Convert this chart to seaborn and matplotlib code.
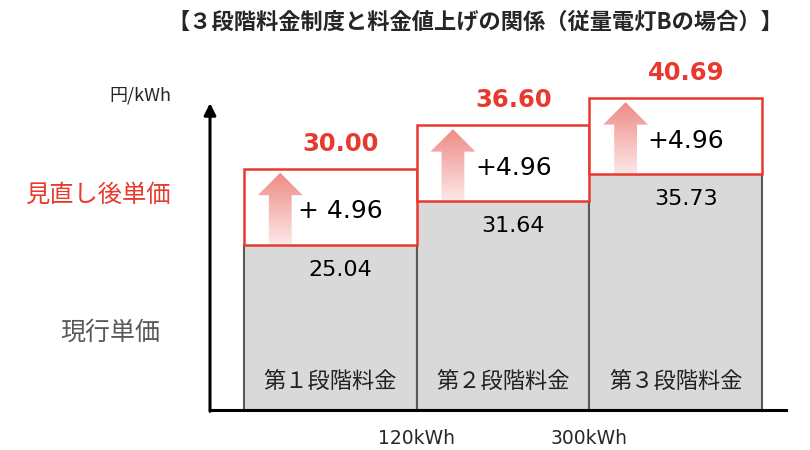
"""
3段階料金制度と料金値上げの関係（従量電灯B）の再現
"""
import numpy as np
import matplotlib
matplotlib.use("Agg")
import matplotlib.pyplot as plt
from matplotlib.colors import LinearSegmentedColormap
from matplotlib.patches import Polygon
import seaborn as sns

# データ
stages = ['第１段階料金', '第２段階料金', '第３段階料金']
current_price = [25.04, 31.64, 35.73]      # 現行単価
increase = [4.96, 4.96, 4.96]              # 値上げ幅
revised_price = [30.00, 36.60, 40.69]      # 見直し後単価
increase_labels = ['+ 4.96', '+4.96', '+4.96']
boundary_labels = ['120kWh', '300kWh']

# 見た目の設定（値上げ幅の箱は模式的に拡大して描く）
BOX_SCALE = 2.32
Y_ARROW_TOP = 46.5
RED = '#E8392E'
GRAY_FILL = '#D9D9D9'
GRAY_EDGE = '#5A5A5A'

sns.set_style('white')
plt.rcParams['font.family'] = ['Noto Sans CJK JP', 'DejaVu Sans']


def draw_gradient_arrow(ax, xc, y0, y1):
    """箱の中にグラデーションの上向き矢印を描く。"""
    hw_head, hw_shaft, head_len = 0.13, 0.066, 3.4
    verts = [(xc - hw_shaft, y0), (xc + hw_shaft, y0),
             (xc + hw_shaft, y1 - head_len), (xc + hw_head, y1 - head_len),
             (xc, y1), (xc - hw_head, y1 - head_len),
             (xc - hw_shaft, y1 - head_len)]
    poly = Polygon(verts, closed=True, facecolor='none', edgecolor='none',
                   transform=ax.transData)
    ax.add_patch(poly)
    cmap = LinearSegmentedColormap.from_list('arrow', ['#FCE7E6', '#EE8B86'])
    grad = np.linspace(0, 1, 256).reshape(-1, 1)
    im = ax.imshow(grad, extent=(xc - hw_head, xc + hw_head, y0, y1),
                   origin='lower', aspect='auto', cmap=cmap, zorder=4)
    im.set_clip_path(poly)


fig = plt.figure(figsize=(8.1, 4.5), dpi=100)
ax = fig.add_axes([210 / 810, 40 / 450, 576 / 810, 360 / 450])

# 現行単価（灰色の棒）
sns.barplot(x=stages, y=current_price, color=GRAY_FILL, saturation=1,
            edgecolor=GRAY_EDGE, linewidth=1.5, width=1, errorbar=None,
            ax=ax, zorder=2)

# 値上げ分（赤枠の箱）
pos = np.arange(len(stages))
box_h = np.array(increase) * BOX_SCALE
tops = np.array(current_price) + box_h
ax.bar(pos, box_h, bottom=current_price, width=1, facecolor='white',
       edgecolor=RED, linewidth=1.8, zorder=3)

for i in range(len(stages)):
    draw_gradient_arrow(ax, i - 0.29, current_price[i] + 0.15, tops[i] - 0.6)
    ax.text(i + 0.06, current_price[i] + box_h[i] / 2 - 0.7, increase_labels[i],
            ha='center', va='center', fontsize=18, family='DejaVu Sans',
            color='black', zorder=5)
    ax.text(i + 0.06, current_price[i] - 3.8, f'{current_price[i]:.2f}',
            ha='center', va='center', fontsize=16, family='DejaVu Sans',
            color='black', zorder=5)
    ax.text(i + 0.06, tops[i] + 3.8, f'{revised_price[i]:.2f}',
            ha='center', va='center', fontsize=17.5, family='DejaVu Sans',
            fontweight='bold', color=RED, zorder=5)
    ax.text(i, 4.4, stages[i], ha='center', va='center', fontsize=16,
            color='#222222', zorder=5)

ax.set_xlim(-0.697, 2.639)
ax.set_ylim(0, 360 / 6.6)

# 軸
for side in ['top', 'right', 'left']:
    ax.spines[side].set_visible(False)
ax.spines['bottom'].set_linewidth(2.2)
ax.spines['bottom'].set_color('black')
ax.spines['bottom'].set_zorder(6)
ax.annotate('', xy=(-0.697, Y_ARROW_TOP), xytext=(-0.697, -0.2),
            arrowprops=dict(arrowstyle='-|>,head_length=0.7,head_width=0.35',
                            mutation_scale=10, lw=2.2, color='black',
                            shrinkA=0, shrinkB=0),
            annotation_clip=False)

ax.set_yticks([])
ax.set_xticks([0.5, 1.5])
ax.set_xticklabels(boundary_labels, fontsize=13.5, family='DejaVu Sans')
ax.tick_params(axis='x', length=0, pad=14)
ax.set_xlabel('')
ax.set_ylabel('')

# 図全体のテキスト
fig.text(475 / 810, 1 - 22 / 450, '【３段階料金制度と料金値上げの関係（従量電灯Bの場合）】',
         ha='center', va='center', fontsize=16, fontweight='bold')
fig.text(140 / 810, 1 - 95 / 450, '円/kWh', ha='center', va='center', fontsize=13)
fig.text(98 / 810, 1 - 195 / 450, '見直し後単価', ha='center', va='center',
         fontsize=17.5, color=RED)
fig.text(110 / 810, 1 - 333 / 450, '現行単価', ha='center', va='center',
         fontsize=18, color='#595959')

fig.savefig('out.png', dpi=100)
